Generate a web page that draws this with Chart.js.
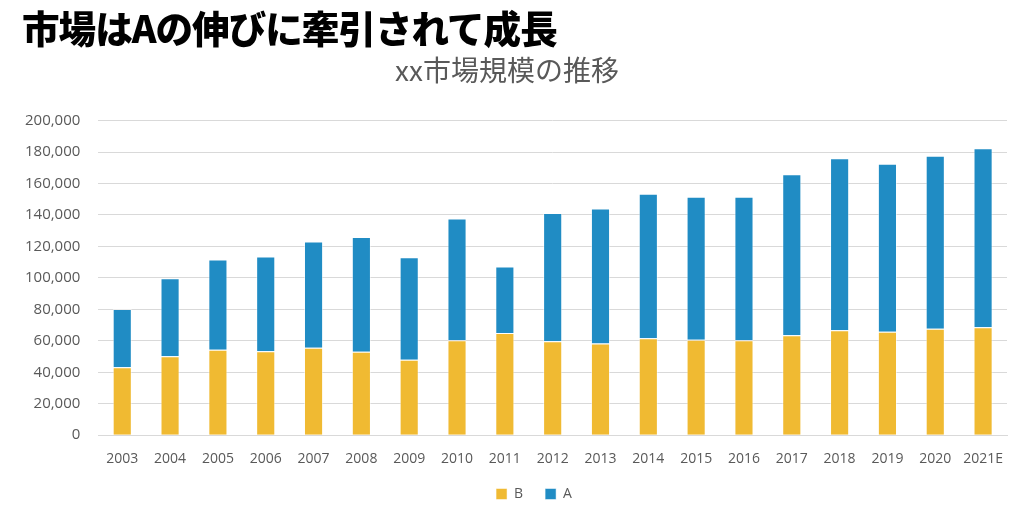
<!DOCTYPE html>
<html>
<head>
<meta charset="utf-8">
<script src="https://cdn.jsdelivr.net/npm/chart.js@4"></script>
<style>
html,body{margin:0;padding:0;background:#fff;width:1024px;height:516px;overflow:hidden;}
#wrap{position:absolute;left:0;top:0;width:1024px;height:516px;}
#title{position:absolute;left:22px;top:3px;margin:0;font-family:"Noto Sans CJK JP";font-weight:900;font-size:37.6px;color:#000;line-height:48px;letter-spacing:-1px;}
</style>
</head>
<body>
<div id="wrap"><canvas id="c" width="1024" height="516"></canvas></div>
<h1 id="title">市場はAの伸びに牽引されて成長</h1>
<script>
const categories = ["2003","2004","2005","2006","2007","2008","2009","2010","2011","2012","2013","2014","2015","2016","2017","2018","2019","2020","2021E"];
const seriesB = [43200,50200,54300,53400,55600,53000,47900,60300,65000,59800,58300,61600,60700,60300,63500,66700,65800,67700,68600];
const seriesA = [37100,49500,57400,60200,67600,73000,65300,77400,42200,81500,85800,91900,90900,91300,102400,109400,106700,109900,113900];
const yTicks = [0,20000,40000,60000,80000,100000,120000,140000,160000,180000,200000];

const fontFam = '"Open Sans","Noto Sans",sans-serif';
const legendShift = {
  id:'legendShift',
  afterLayout(chart){ if(chart.legend){ chart.legend.left += 27; chart.legend.right += 27; } }
};
new Chart(document.getElementById('c'), {
  type: 'bar',
  data: {
    labels: categories,
    datasets: [
      {label:'B', data: seriesB, backgroundColor:'#F0BA32', borderColor:'rgba(255,255,255,0.5)', borderWidth:1, barPercentage:0.4, categoryPercentage:1.0},
      {label:'A', data: seriesA, backgroundColor:'#208CC4', borderColor:'rgba(255,255,255,0.5)', borderWidth:1, barPercentage:0.4, categoryPercentage:1.0}
    ]
  },
  plugins:[legendShift],
  options: {
    responsive:false,
    animation:false,
    devicePixelRatio:1,
    layout:{padding:{left:7,right:17,top:54,bottom:5}},
    plugins:{
      title:{display:true,text:'xx市場規模の推移',color:'#595959',font:{family:'"Noto Sans CJK JP"',size:28,weight:'normal'},padding:{top:0,bottom:33}},
      legend:{position:'bottom',labels:{color:'#595959',font:{family:fontFam,size:14},boxWidth:11,boxHeight:11,padding:22}},
      tooltip:{enabled:false}
    },
    scales:{
      x:{stacked:true,grid:{display:false,drawTicks:false},border:{color:'#d9d9d9'},
        afterFit:(ax)=>{ax.height -= 17;},
        ticks:{color:'#595959',font:{family:fontFam,size:14},maxRotation:0,autoSkip:false,padding:15}},
      y:{stacked:true,min:0,max:200000,
        afterBuildTicks:(ax)=>{ax.ticks=yTicks.map(v=>({value:v}));},
        grid:{color:'#d9d9d9',lineWidth:1,drawTicks:false},border:{display:false},
        ticks:{color:'#595959',font:{family:fontFam,size:15},padding:18,callback:(v)=>v.toLocaleString('en-US')}}
    }
  }
});
</script>
</body>
</html>
